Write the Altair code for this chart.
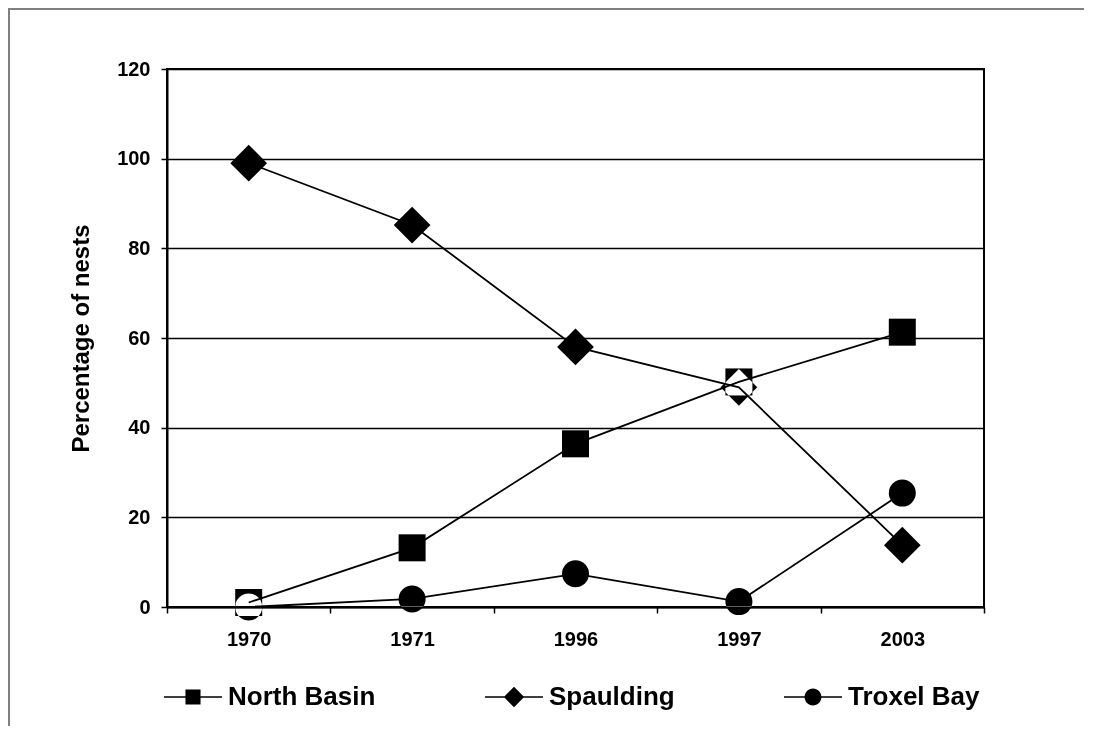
import altair as alt
import pandas as pd

years = ["1970", "1971", "1996", "1997", "2003"]
series = ["North Basin", "Spaulding", "Troxel Bay"]
north_basin = [1, 13.2, 36.4, 50.2, 61.3]
spaulding = [99, 85.2, 58, 49, 13.8]
troxel_bay = [0, 1.8, 7.4, 1.2, 25.4]
y_ticks = [0, 20, 40, 60, 80, 100, 120]
marker_shapes = ["square", "diamond", "circle"]
marker_sizes = [729, 1350, 729]

rows = []
for name, vals in zip(series, [north_basin, spaulding, troxel_bay]):
    for yr, v in zip(years, vals):
        rows.append({"year": yr, "series": name, "pct": v})
df = pd.DataFrame(rows)

FONT = "Liberation Sans"
W, H = 817, 538

x_enc = alt.X(
    "year:N", sort=years,
    scale=alt.Scale(type="band", paddingInner=0, paddingOuter=0),
    axis=alt.Axis(title=None, tickBand="extent", domainColor="black", domainWidth=2,
                  tickColor="black", tickWidth=1.5, tickSize=6, labelFont=FONT,
                  labelFontSize=20, labelFontWeight="bold", labelColor="black",
                  labelPadding=16, labelAngle=0, grid=False, zindex=1),
)
y_enc = alt.Y(
    "pct:Q",
    scale=alt.Scale(domain=[0, 120], nice=False, zero=True),
    axis=alt.Axis(values=y_ticks, title="Percentage of nests", grid=True,
                  gridColor="black", gridWidth=1.3, domainColor="black", domainWidth=2,
                  tickColor="black", tickWidth=1.5, tickSize=6, labelFont=FONT,
                  labelFontSize=20, labelFontWeight="bold", labelColor="black",
                  labelPadding=11, titleFont=FONT, titleFontSize=24,
                  titleFontWeight="bold", titleColor="black", titleX=-79, titleY=H / 2,
                  titleAngle=-90, titleBaseline="alphabetic", titleAlign="center",
                  zindex=1),
)

base = alt.Chart(df)

# markers: white with "difference" blending -> black on white, white where markers overlap
marker_layers = []
for name, shp, sz in zip(series, marker_shapes, marker_sizes):
    marker_layers.append(
        base.transform_filter(alt.datum.series == name)
        .mark_point(filled=True, opacity=1, blend="difference", strokeWidth=0,
                    shape=shp, size=sz, color="white")
        .encode(x=x_enc, y=y_enc)
    )

lines = base.mark_line(color="black", strokeWidth=1.8).encode(
    x=x_enc, y=y_enc, detail="series:N",
)

# legend symbols: a filled thin bar (the line) plus the marker, in unit coordinates
bar = "M-1,-0.03L1,-0.03L1,0.03L-1,0.03Z"
legend_paths = [
    bar + "M-0.26,-0.26L0.26,-0.26L0.26,0.26L-0.26,0.26Z",
    bar + "M-0.35,0L0,-0.35L0.35,0L0,0.35Z",
    bar + "M0.29,0A0.29,0.29,0,1,1,-0.29,0A0.29,0.29,0,1,1,0.29,0Z",
]

legend_layer = base.mark_point(filled=True, size=0, opacity=1, color="black").encode(
    x=x_enc, y=y_enc,
    shape=alt.Shape(
        "series:N",
        scale=alt.Scale(domain=series, range=legend_paths),
        legend=alt.Legend(title=None, orient="none", direction="horizontal",
                          legendX=-3, legendY=599, symbolSize=3364,
                          symbolStrokeWidth=0, symbolFillColor="black",
                          symbolOpacity=1,
                          labelFont=FONT, labelFontSize=26, labelFontWeight="bold",
                          labelColor="black", labelOffset=6, labelLimit=400,
                          columnPadding=109, padding=0, rowPadding=0),
    ),
)

one = alt.Data(values=[{}])
border_top = alt.Chart(one).mark_rule(color="#808080", strokeWidth=2).encode(
    x=alt.value(-159), x2=alt.value(W + 100), y=alt.value(-60), y2=alt.value(-60),
)
border_left = alt.Chart(one).mark_rule(color="#808080", strokeWidth=2).encode(
    x=alt.value(-158), x2=alt.value(-158), y=alt.value(-61), y2=alt.value(H + 119),
)

chart = alt.layer(*marker_layers, lines, legend_layer, border_top, border_left).properties(
    width=W, height=H,
    padding={"left": 159, "top": 61, "right": 100, "bottom": 119},
    autosize="none",
    background="white",
).configure_view(stroke="black", strokeWidth=2)

chart.save("out.html", embed_options={"renderer": "svg", "actions": False})
